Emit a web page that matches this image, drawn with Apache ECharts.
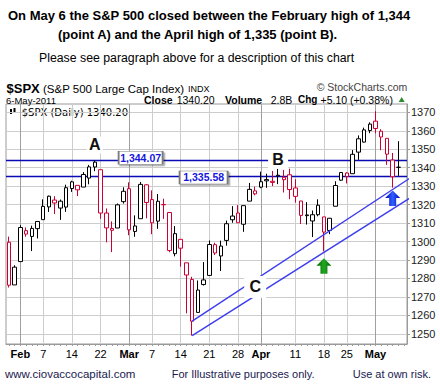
<!DOCTYPE html>
<html><head><meta charset="utf-8">
<script src="https://cdn.jsdelivr.net/npm/echarts@6/dist/echarts.min.js"></script>
<style>html,body{margin:0;padding:0;background:#fff}#c{width:440px;height:392px}</style>
</head><body><div id="c"></div>
<script>
// ---------- data ----------
const dates = [
 '2011-01-28','2011-01-31',
 '2011-02-01','2011-02-02','2011-02-03','2011-02-04','2011-02-07','2011-02-08','2011-02-09','2011-02-10','2011-02-11',
 '2011-02-14','2011-02-15','2011-02-16','2011-02-17','2011-02-18','2011-02-22','2011-02-23','2011-02-24','2011-02-25','2011-02-28',
 '2011-03-01','2011-03-02','2011-03-03','2011-03-04','2011-03-07','2011-03-08','2011-03-09','2011-03-10','2011-03-11',
 '2011-03-14','2011-03-15','2011-03-16','2011-03-17','2011-03-18','2011-03-21','2011-03-22','2011-03-23','2011-03-24','2011-03-25',
 '2011-03-28','2011-03-29','2011-03-30','2011-03-31',
 '2011-04-01','2011-04-04','2011-04-05','2011-04-06','2011-04-07','2011-04-08','2011-04-11','2011-04-12','2011-04-13','2011-04-14','2011-04-15',
 '2011-04-18','2011-04-19','2011-04-20','2011-04-21','2011-04-25','2011-04-26','2011-04-27','2011-04-28','2011-04-29',
 '2011-05-02','2011-05-03','2011-05-04','2011-05-05','2011-05-06'
];
const opens = [
 1299.63,1276.50,1289.14,1305.91,1302.77,1307.01,1311.85,1318.76,1322.48,1318.13,1318.66,1328.73,1330.43,1329.51,1334.37,1340.38,1338.91,1315.44,1307.09,1307.34,1321.61,
 1328.64,1305.47,1312.37,1330.73,1322.72,1311.05,1319.92,1315.72,1293.43,1301.19,1288.46,1279.46,1261.61,1276.71,1281.65,1298.29,1292.19,1300.61,1311.80,1315.45,1309.37,1321.89,1327.44,
 1329.48,1333.56,1332.03,1335.94,1334.82,1336.16,1329.01,1321.96,1314.03,1311.13,1314.54,1313.35,1305.99,1319.12,1333.23,1337.14,1336.75,1348.43,1353.86,1360.14,
 1365.21,1359.76,1355.90,1344.16,1340.24
];
const highs = [
 1302.67,1287.17,1308.86,1307.61,1308.60,1311.00,1322.85,1324.87,1324.54,1322.76,1330.79,1332.96,1330.43,1337.61,1341.50,1344.07,1338.91,1317.91,1310.91,1320.61,1329.38,
 1332.09,1314.19,1332.28,1331.08,1327.68,1325.74,1323.21,1315.72,1308.35,1301.19,1288.46,1280.91,1278.88,1288.88,1300.58,1299.35,1300.51,1311.34,1319.18,1319.74,1319.45,1331.74,1329.77,
 1337.85,1336.74,1338.21,1339.38,1338.80,1339.46,1333.77,1321.96,1321.35,1316.79,1322.88,1313.35,1312.70,1332.66,1337.49,1337.55,1349.55,1357.49,1361.71,1364.56,
 1370.58,1360.84,1355.90,1348.00,1354.36
];
const lows = [
 1275.10,1276.50,1289.14,1302.62,1294.83,1301.67,1311.85,1316.03,1314.89,1311.74,1316.08,1326.90,1324.61,1329.51,1331.00,1338.12,1312.33,1299.55,1294.26,1307.34,1320.55,
 1303.42,1302.58,1312.37,1312.59,1303.99,1306.86,1312.27,1294.21,1291.99,1286.37,1261.12,1249.05,1261.61,1276.18,1281.65,1292.70,1284.05,1297.74,1310.15,1310.19,1305.26,1321.89,1325.03,
 1328.89,1329.10,1330.03,1331.09,1326.56,1322.94,1321.06,1309.51,1309.19,1302.42,1313.68,1294.70,1303.97,1319.12,1332.83,1331.47,1336.75,1344.25,1353.60,1358.69,
 1358.59,1349.52,1341.50,1329.17,1335.58
];
const closes = [
 1276.34,1286.12,1307.59,1304.03,1307.10,1310.87,1319.05,1324.57,1320.88,1321.87,1329.15,1332.32,1328.01,1336.32,1340.43,1343.01,1315.44,1307.40,1306.10,1319.88,1327.22,
 1306.33,1308.44,1330.97,1321.15,1310.13,1321.82,1320.02,1295.11,1304.28,1296.39,1281.87,1256.88,1273.72,1279.21,1298.38,1293.77,1297.54,1309.66,1313.80,1310.19,1319.44,1328.26,1325.83,
 1332.41,1332.87,1332.63,1335.54,1333.51,1328.17,1324.46,1314.16,1314.41,1314.52,1319.68,1305.14,1312.62,1330.36,1337.38,1335.25,1347.24,1355.66,1360.48,1363.61,
 1361.22,1356.62,1347.32,1335.10,1340.20
];
const yTicks = [1250,1260,1270,1280,1290,1300,1310,1320,1330,1340,1350,1360,1370];
const xTickLabels = {
 '2011-02-01':'Feb','2011-02-07':'7','2011-02-14':'14','2011-02-22':'22',
 '2011-03-01':'Mar','2011-03-07':'7','2011-03-14':'14','2011-03-21':'21','2011-03-28':'28',
 '2011-04-01':'Apr','2011-04-11':'11','2011-04-18':'18','2011-04-25':'25','2011-05-02':'May'
};
const monthStarts = ['2011-02-01','2011-03-01','2011-04-01','2011-05-02'];
const levelFeb = 1344.07, levelApr = 1335.58;
const lowerChannel = [[32, 1249.05], [69.5, 1323.5]];
const upperChannel = [[32, 1256.88], [69.5, 1334.3]];

// ---------- chart ----------
const FONT = '"Liberation Sans", Arial, sans-serif';
const RED = '#cc0033', BLACK = '#000000';
const cats = dates.concat(['']);
const candleData = dates.map((d, i) => {
  const o = opens[i], c = closes[i];
  const prev = i > 0 ? closes[i - 1] : o;
  const col = c < prev ? RED : BLACK;
  return { value: [o, c, lows[i], highs[i]],
    itemStyle: { color: '#ffffff', color0: col, borderColor: col, borderColor0: col } };
});
const monthSet = new Set(monthStarts);

const gridLineData = [];
yTicks.forEach(v => gridLineData.push({ yAxis: v, lineStyle: { color: '#cdcdcd', width: 1, type: 'solid' } }));
Object.keys(xTickLabels).forEach(d => gridLineData.push({ xAxis: d,
  lineStyle: { color: monthSet.has(d) ? '#a0a0a0' : '#cdcdcd', width: 1, type: 'solid' } }));
[levelFeb, levelApr].forEach(v => gridLineData.push({ yAxis: v, lineStyle: { color: '#0a0ab4', width: 1.3, type: 'solid' } }));

function grad(edge, mid) {
  return { type: 'linear', x: 0, y: 0, x2: 1, y2: 0,
    colorStops: [{ offset: 0, color: edge }, { offset: 0.5, color: mid }, { offset: 1, color: edge }] };
}
const ARROW = 'path://M7.5,0L15,7.5L11,7.5L11,15.5L4,15.5L4,7.5L0,7.5Z';
const letter = (t, coord, size) => ({ coord, symbol: 'rect', symbolSize: size,
  itemStyle: { color: '#ffffff' },
  label: { show: true, position: 'inside', formatter: t, fontSize: 16, fontWeight: 'bold', color: '#111', fontFamily: FONT } });
const box = (t, coord, size) => ({ coord, symbol: 'rect', symbolSize: size,
  itemStyle: { color: '#ffffff', borderColor: '#7a7a7a', borderWidth: 1,
    shadowColor: 'rgba(0,0,0,0.35)', shadowOffsetX: 1.5, shadowOffsetY: 1.5, shadowBlur: 0 },
  label: { show: true, position: 'inside', formatter: t, fontSize: 10.5, fontWeight: 'bold', color: '#1515e0', fontFamily: FONT } });

function txt(x, y, text, font, fill) {
  return { type: 'text', silent: true, style: { x, y, text, font: font + ' ' + FONT, fill: fill || '#000',
    textAlign: 'left', textVerticalAlign: 'middle' } };
}

const chart = echarts.init(document.getElementById('c'), null, { renderer: 'svg', width: 440, height: 392 });
chart.setOption({
  animation: false,
  backgroundColor: '#ffffff',
  grid: { left: 6, right: 33, top: 104, bottom: 48, show: true, borderColor: '#9a9a9a', borderWidth: 1, backgroundColor: '#ffffff' },
  xAxis: {
    type: 'category', data: cats, boundaryGap: true,
    axisLine: { show: true, lineStyle: { color: '#9a9a9a' } },
    axisTick: { show: true, interval: 0, alignWithLabel: true, length: 2, lineStyle: { color: '#9a9a9a' } },
    axisLabel: {
      interval: (i, v) => xTickLabels[v] !== undefined, margin: 4,
      formatter: v => (monthSet.has(v) ? '{m|' : '{d|') + (xTickLabels[v] || '') + '}',
      rich: { m: { fontSize: 11, fontWeight: 'bold', color: '#000', fontFamily: FONT },
              d: { fontSize: 11, color: '#000', fontFamily: FONT } }
    },
    splitLine: { show: false }
  },
  yAxis: {
    type: 'value', position: 'right', min: 1244.5, max: 1374.5, scale: true,
    axisLine: { show: true, lineStyle: { color: '#9a9a9a' } },
    axisTick: { show: true, customValues: yTicks, length: 3, lineStyle: { color: '#9a9a9a' } },
    axisLabel: { customValues: yTicks, formatter: v => String(Math.round(v)), fontSize: 11, color: '#222', margin: 4, fontFamily: FONT },
    splitLine: { show: false }
  },
  series: [
    { type: 'candlestick', name: '$SPX', data: candleData, barWidth: 4, z: 3, silent: true,
      itemStyle: { borderWidth: 1 } },
    { type: 'line', name: 'lower', data: lowerChannel, symbol: 'none', silent: true, z: 4,
      lineStyle: { color: '#3c3cf0', width: 1.4 },
      markLine: { silent: true, z: 1, symbol: ['none', 'none'], label: { show: false }, animation: false,
        lineStyle: { type: 'solid' }, data: gridLineData },
      markPoint: { silent: true, z: 6, animation: false, data: [
        letter('A', [15.3, 1352.3], [16, 17]),
        letter('B', [47.1, 1344.3], [20, 18]),
        letter('C', [43.1, 1275.4], [22, 22]),
        box('1,344.07', [23.32, 1345.4], [44, 13]),
        box('1,335.58', [33.8, 1334.7], [48, 13]),
        { coord: [55, 1286.8], symbol: ARROW, symbolSize: [15, 15.5], itemStyle: { color: grad('#006400', '#22a822') }, label: { show: false } },
        { coord: [67, 1323.5], symbol: ARROW, symbolSize: [15, 15.5], itemStyle: { color: grad('#0000c0', '#3060ff') }, label: { show: false } }
      ] } },
    { type: 'line', name: 'upper', data: upperChannel, symbol: 'none', silent: true, z: 4,
      lineStyle: { color: '#3c3cf0', width: 1.4 } }
  ],
  graphic: [
    txt(8, 15.5, 'On May 6 the S&P 500 closed between the February high of 1,344', 'bold 13px'),
    txt(58, 34.5, '(point A) and the April high of 1,335 (point B).', 'bold 13px'),
    txt(39, 57.5, 'Please see paragraph above for a description of this chart', '12.3px'),
    txt(6.5, 88.3, '$SPX', 'bold 13px'),
    txt(43, 88.5, '(S&P 500 Large Cap Index)', '11.5px'),
    txt(188, 88.8, 'INDX', '9px'),
    txt(316.7, 87.3, '\u00a9 StockCharts.com', '10.5px', '#444'),
    txt(6, 100, '6-May-2011', '9.5px'),
    txt(144, 99.7, 'Close', 'bold 10.5px'),
    txt(176.7, 99.7, '1340.20', '10.5px'),
    txt(225, 99.7, 'Volume', 'bold 10.5px'),
    txt(270.7, 99.7, '2.8B', '10.5px'),
    txt(298, 99.7, 'Chg', 'bold 10px'),
    txt(320.5, 99.7, '+5.10 (+0.38%)', '10.5px'),
    { type: 'polygon', silent: true, shape: { points: [[398.7, 102], [404.7, 102], [401.7, 97]] }, style: { fill: '#2e8b2e' } },
    { type: 'rect', silent: true, shape: { x: 10, y: 109, width: 2, height: 5 }, style: { fill: '#000' } },
    { type: 'rect', silent: true, shape: { x: 13.5, y: 108, width: 2, height: 5 }, style: { fill: '#000' } },
    { type: 'text', silent: true, style: { x: 21.7, y: 112, text: '$SPX (Daily) 1340.20', font: '10px "DejaVu Sans", sans-serif', fill: '#000', textAlign: 'left', textVerticalAlign: 'middle' } },
    txt(5, 374, 'www.ciovaccocapital.com', '11.5px', '#1a1a50'),
    txt(171.7, 374, 'For Illustrative purposes only.', '11px', '#1a1a50'),
    txt(352.7, 374, 'Use at own risk.', '11px', '#1a1a50')
  ]
});
</script>
</body></html>
